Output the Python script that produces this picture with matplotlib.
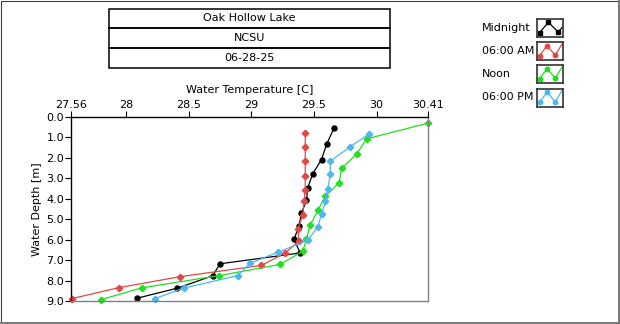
import matplotlib
matplotlib.use("Agg")
import matplotlib.pyplot as plt
from matplotlib.patches import Rectangle
from matplotlib.lines import Line2D

# Profile readings (depth in m, temperature in C)
midnight_depth = [0.54, 1.34, 2.08, 2.77, 3.47, 4.08, 4.70, 5.33, 5.99, 6.65, 7.18, 7.77, 8.37, 8.86]
midnight_temp = [29.66, 29.60, 29.56, 29.49, 29.45, 29.44, 29.40, 29.38, 29.34, 29.39, 28.75, 28.69, 28.41, 28.09]

am6_depth = [0.78, 1.49, 2.16, 2.87, 3.55, 4.13, 4.80, 5.48, 6.06, 6.65, 7.26, 7.81, 8.35, 8.88]
am6_temp = [29.43, 29.43, 29.43, 29.43, 29.43, 29.42, 29.41, 29.37, 29.38, 29.27, 29.08, 28.43, 27.94, 27.57]

noon_depth = [0.30, 1.07, 1.82, 2.51, 3.22, 3.88, 4.57, 5.28, 5.97, 6.57, 7.21, 7.76, 8.35, 8.93]
noon_temp = [30.41, 29.92, 29.84, 29.72, 29.70, 29.59, 29.53, 29.47, 29.44, 29.41, 29.23, 28.74, 28.13, 27.80]

pm6_depth = [0.83, 1.45, 2.16, 2.81, 3.50, 4.13, 4.74, 5.38, 6.02, 6.62, 7.15, 7.76, 8.37, 8.88]
pm6_temp = [29.94, 29.79, 29.63, 29.63, 29.61, 29.59, 29.56, 29.53, 29.45, 29.21, 28.99, 28.89, 28.46, 28.23]

x_ticks = [27.56, 28, 28.5, 29, 29.5, 30, 30.41]
x_tick_labels = ["27.56", "28", "28.5", "29", "29.5", "30", "30.41"]
y_ticks = [0, 1, 2, 3, 4, 5, 6, 7, 8, 9]

header_lines = ["Oak Hollow Lake", "NCSU", "06-28-25"]

series = [
    ("Midnight", midnight_temp, midnight_depth, "black", "o"),
    ("06:00 AM", am6_temp, am6_depth, "#e04848", "D"),
    ("Noon", noon_temp, noon_depth, "#22dd22", "D"),
    ("06:00 PM", pm6_temp, pm6_depth, "#4cb8ee", "D"),
]

plt.rcParams["font.family"] = ["DejaVu Sans"]
W, H = 620, 324
fig = plt.figure(figsize=(W / 100, H / 100), dpi=100)


def fx(px):
    return px / W


def fy(py):
    return 1 - py / H


# panel border: thin dark top/left, thicker gray bottom/right
fig.lines.append(Line2D([fx(0.5), fx(0.5), fx(619)], [fy(322), fy(0.5), fy(0.5)],
                        transform=fig.transFigure, color="#404040", linewidth=0.8))
fig.lines.append(Line2D([fx(1), fx(618.5), fx(618.5)], [fy(322.5), fy(322.5), fy(0)],
                        transform=fig.transFigure, color="#7a7a7a", linewidth=2.2))

# header boxes
row_edges = [8.5, 28, 48, 67.5]
for i, txt in enumerate(header_lines):
    top, bot = row_edges[i], row_edges[i + 1]
    fig.patches.append(Rectangle((fx(109), fy(bot)), fx(390) - fx(109), fy(top) - fy(bot),
                                 transform=fig.transFigure, fill=False, edgecolor="black", linewidth=1.1))
    fig.text(fx(249.5), fy((top + bot) / 2), txt, ha="center", va="center", fontsize=8)

# main plot
ax = fig.add_axes([fx(71), fy(301), fx(428) - fx(71), fy(117) - fy(301)])
for name, temp, depth, color, marker in series:
    ax.plot(temp, depth, color=color, linewidth=0.9, marker=marker,
            markersize=3.6 if marker == "o" else 3.3, clip_on=False)

ax.set_xlim(27.56, 30.41)
ax.set_ylim(9, 0)
ax.xaxis.tick_top()
ax.xaxis.set_label_position("top")
ax.set_xticks(x_ticks)
ax.set_xticklabels(x_tick_labels)
ax.set_yticks(y_ticks)
ax.set_yticklabels([f"{v:.1f}" for v in y_ticks])
ax.tick_params(axis="both", direction="out", length=4, width=0.8, labelsize=8, pad=1)
ax.set_xlabel("Water Temperature [C]", fontsize=8, labelpad=5)
ax.set_ylabel("Water Depth [m]", fontsize=8, labelpad=3)
ax.spines["left"].set_color("black")
ax.spines["top"].set_color("black")
ax.spines["right"].set_color("#808080")
ax.spines["bottom"].set_color("#808080")
for s in ax.spines.values():
    s.set_linewidth(1.0)

# legend: label plus small icon box per series
row_centers = [28, 51, 74, 97.5]
for (name, temp, depth, color, marker), cy in zip(series, row_centers):
    fig.text(fx(482), fy(cy), name, ha="left", va="center", fontsize=8)
    iax = fig.add_axes([fx(537), fy(cy + 9), fx(26), fy(cy - 9) - fy(cy + 9)])
    iax.set_xlim(0, 1)
    iax.set_ylim(0, 1)
    iax.set_xticks([])
    iax.set_yticks([])
    for s in iax.spines.values():
        s.set_linewidth(1.2)
        s.set_color("#333333")
    if name == "Midnight":
        iax.plot([0.1, 0.44, 0.81, 0.98], [0.25, 0.82, 0.28, 0.55], color=color, linewidth=0.9)
        iax.plot([0.1, 0.44, 0.81], [0.25, 0.82, 0.28], linestyle="none", marker="s",
                 markersize=2.8, color=color)
    else:
        iax.plot([0.02, 0.1, 0.39, 0.70, 0.96], [0.1, 0.24, 0.8, 0.26, 0.88], color=color, linewidth=0.9)
        iax.plot([0.1, 0.39, 0.70], [0.24, 0.8, 0.26], linestyle="none", marker="o",
                 markersize=3.2, color=color)

fig.savefig("out.png", dpi=100)
